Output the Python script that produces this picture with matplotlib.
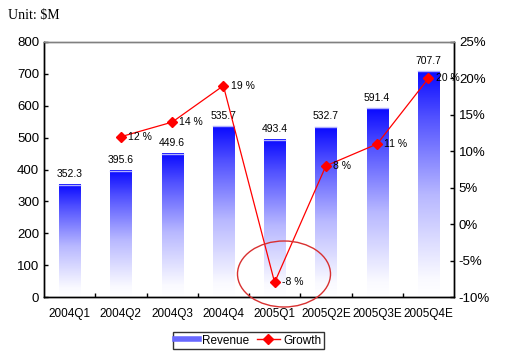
import numpy as np
import matplotlib
matplotlib.use("Agg")
import matplotlib.pyplot as plt
from matplotlib.colors import LinearSegmentedColormap
from matplotlib.patches import Ellipse
from matplotlib.lines import Line2D

categories = ["2004Q1", "2004Q2", "2004Q3", "2004Q4", "2005Q1", "2005Q2E", "2005Q3E", "2005Q4E"]
revenue = [352.3, 395.6, 449.6, 535.7, 493.4, 532.7, 591.4, 707.7]
growth = [None, 12, 14, 19, -8, 8, 11, 20]
growth_labels = ["", "12 %", "14 %", "19 %", "-8 %", "8 %", "11 %", "20 %"]

plt.rcParams['font.family'] = ['Liberation Sans', 'DejaVu Sans']

fig = plt.figure(figsize=(5.19, 3.59), dpi=100)
ax = fig.add_axes([44/519, 1-297/359, 410/519, 255/359])
ax2 = ax.twinx()

cmap = LinearSegmentedColormap.from_list(
    "bg", [(0.0, "#ffffff"), (0.08, "#fafaff"), (0.45, "#b8b8ff"),
           (0.8, "#5050ff"), (1.0, "#0a0aff")])
grad = np.linspace(0, 1, 256).reshape(-1, 1)
w = 0.41
x = np.arange(len(categories))
for xi, v in zip(x, revenue):
    ax.imshow(grad, cmap=cmap, aspect='auto', origin='lower',
              extent=[xi - w/2, xi + w/2, 0, v], zorder=2, interpolation='bilinear')
    ax.plot([xi - w/2, xi + w/2], [v, v], color="#b0b0ff", linewidth=1.0, zorder=3)
    ax.text(xi, v + 18, f"{v:.1f}", ha='center', va='bottom', fontsize=7.5, zorder=5)

ax.set_xlim(-0.5, len(categories) - 0.5)
ax.set_ylim(0, 800)
ax.set_yticks(range(0, 801, 100))
ax.set_xticks(x)
ax.set_xticklabels(categories, fontsize=8.5)
ax.set_xticks(np.arange(0.5, len(categories) - 0.5, 1), minor=True)
ax.tick_params(axis='x', which='major', length=0, pad=8)
ax.tick_params(axis='x', which='minor', direction='in', length=3, width=1)
ax.tick_params(axis='y', direction='in', length=3, width=1, labelsize=9.5)

gx = [xi for xi, g in zip(x, growth) if g is not None]
gy = [g for g in growth if g is not None]
ax2.plot(gx, gy, color='red', linewidth=0.9, marker='D', markersize=5.5,
         markerfacecolor='red', markeredgecolor='red', zorder=6)
for xi, g, lab in zip(x, growth, growth_labels):
    if g is None:
        continue
    ax2.text(xi + 0.14, g, lab, ha='left', va='center', fontsize=7.5, zorder=7)
ax2.set_ylim(-10, 25)
ax2.set_yticks(range(-10, 26, 5))
ax2.set_yticklabels([f"{t}%" for t in range(-10, 26, 5)])
ax2.tick_params(axis='y', direction='in', length=3, width=1, labelsize=9.5)

for a in (ax, ax2):
    a.spines['top'].set_color('#808080')
    a.spines['left'].set_color('black')
    a.spines['right'].set_color('black')
    a.spines['bottom'].set_color('black')
    for s in a.spines.values():
        s.set_linewidth(1)
ax.set_zorder(1)
ax2.set_zorder(2)
ax2.patch.set_visible(False)

ell = Ellipse((284/519, 1-274/359), 93/519, 66/359, transform=fig.transFigure,
              fill=False, edgecolor='#d83030', linewidth=1.0, clip_on=False, zorder=10)
fig.add_artist(ell)

fig.text(8/519, 1-16/359, "Unit: $M", family=['Liberation Serif'], fontsize=10,
         ha='left', va='center')

handles = [Line2D([0], [0], color='#6868ff', linewidth=4),
           Line2D([0], [0], color='red', marker='D', markersize=5, linewidth=1)]
leg = fig.legend(handles, ["Revenue", "Growth"], loc='center',
                 bbox_to_anchor=(248.5/519, 1-340.5/359), ncol=2, fontsize=8.5,
                 frameon=True, fancybox=False, edgecolor='black', handlelength=2.0,
                 handletextpad=0.3, columnspacing=0.6, borderpad=0.2)
leg.get_frame().set_linewidth(1)

fig.savefig("out.png", dpi=100)
